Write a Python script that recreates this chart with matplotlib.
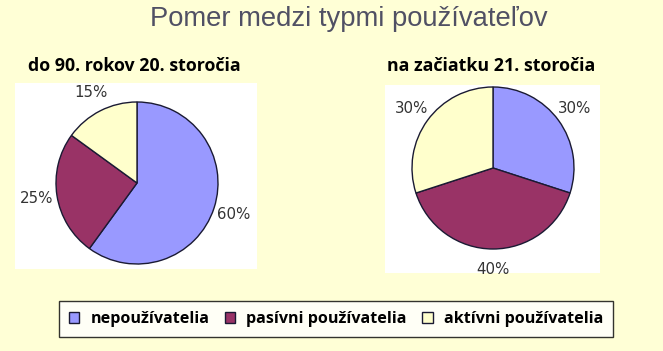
import matplotlib
matplotlib.use("Agg")
import matplotlib.pyplot as plt
from matplotlib.patches import Rectangle

title = "Pomer medzi typmi používateľov"
categories = ["nepoužívatelia", "pasívni používatelia", "aktívni používatelia"]
period_titles = ["do 90. rokov 20. storočia", "na začiatku 21. storočia"]
values_90s = [60, 25, 15]
values_21c = [30, 40, 30]
colors = ["#9999FF", "#993366", "#FFFFCC"]

W, H = 663, 351
fig = plt.figure(figsize=(W / 100, H / 100), dpi=100)
bg = "#FFFFD6"
fig.patch.set_facecolor(bg)

def fx(x):
    return x / W

def fy(y):
    return 1 - y / H

bgax = fig.add_axes([0, 0, 1, 1], zorder=-1)
bgax.set_xlim(0, W)
bgax.set_ylim(H, 0)
bgax.axis("off")
for (x0, y0, x1, y1) in [(15, 83, 257, 269), (385, 85, 600, 273)]:
    bgax.add_patch(Rectangle((x0, y0), x1 - x0, y1 - y0, facecolor="white",
                             edgecolor="none"))

fig.text(fx(349), fy(19), title, ha="center", va="center", fontsize=19.7,
         color="#505064", family="Liberation Sans")

sub_pos = [(134, 66), (491, 66)]
for (x, y), t in zip(sub_pos, period_titles):
    fig.text(fx(x), fy(y), t, ha="center", va="center", fontsize=12.8,
             fontweight="bold", color="black", family="Open Sans")

centers = [(137, 183), (493, 168)]
r = 81
wedges_all = None
for (cx, cy), vals in zip(centers, [values_90s, values_21c]):
    ax = fig.add_axes([fx(cx - r), fy(cy + r), 2 * r / W, 2 * r / H], zorder=1)
    ax.set_facecolor("none")
    labels = [f"{v}%" for v in vals]
    wedges, texts = ax.pie(vals, colors=colors, startangle=90, counterclock=False,
                           labels=labels, labeldistance=1.25,
                           wedgeprops=dict(edgecolor="#1a1a33", linewidth=1.0),
                           textprops=dict(fontsize=10.8, color="#333333",
                                          family="DejaVu Sans"))
    for t in texts:
        t.set_ha("center")
        t.set_va("center")
    ax.set_xlim(-1, 1)
    ax.set_ylim(-1, 1)
    ax.set_aspect("equal")
    ax.axis("off")
    if wedges_all is None:
        wedges_all = wedges

leg = fig.legend(wedges_all, categories, loc="center", bbox_to_anchor=(fx(336), fy(319)),
                 ncol=3, frameon=True, fancybox=False, handlelength=0.65, handleheight=0.65,
                 handletextpad=0.7, columnspacing=0.95, borderpad=0.6,
                 prop=dict(family="Open Sans", weight="bold", size=11.6))
leg.get_frame().set_edgecolor("black")
leg.get_frame().set_linewidth(1.0)
leg.get_frame().set_facecolor("white")

fig.savefig("out.png", dpi=100, facecolor=bg)
